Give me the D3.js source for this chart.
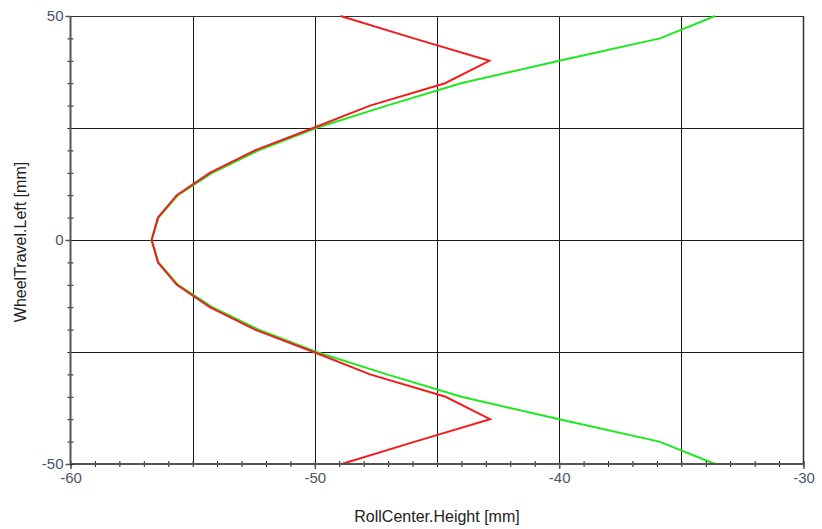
<!DOCTYPE html>
<html>
<head>
<meta charset="utf-8">
<script src="https://cdn.jsdelivr.net/npm/d3@7/dist/d3.min.js"></script>
<style>
  html, body { margin: 0; padding: 0; background: #fff; }
  svg { display: block; font-family: "Liberation Sans", Arial, sans-serif; }
</style>
</head>
<body>
<svg id="chart" width="822" height="529"></svg>
<script>
// Wheel travel (y) values, mm
const wheelTravel = [-50, -45, -40, -35, -30, -25, -20, -15, -10, -5, 0, 5, 10, 15, 20, 25, 30, 35, 40, 45, 50];
// Roll center height (x) values, mm
const redSeries = [-48.9, -45.9, -42.83, -44.65, -47.74, -50.05, -52.45, -54.3, -55.65, -56.42, -56.68,
                   -56.42, -55.65, -54.3, -52.45, -50.07, -47.74, -44.67, -42.86, -45.95, -48.95];
const greenSeries = [-33.62, -35.9, -40.0, -44.0, -47.05, -49.93, -52.3, -54.2, -55.6, -56.4, -56.68,
                     -56.4, -55.6, -54.2, -52.3, -49.95, -47.05, -44.02, -40.0, -35.87, -33.62];
const xTicks = [-60, -50, -40, -30];
const xGrid = [-55, -50, -45, -40, -35];
const yTicks = [-50, 0, 50];
const yGrid = [-25, 0, 25];
const xLabel = "RollCenter.Height [mm]";
const yLabel = "WheelTravel.Left [mm]";

const svg = d3.select("#chart");
const L = 70.5, R = 803.5, T = 16, B = 464;
const x = d3.scaleLinear().domain([-60, -30]).range([L, R]);
const y = d3.scaleLinear().domain([-50, 50]).range([B, T]);
const fmt = d => String(d);

// grid
const g = svg.append("g");
g.selectAll("line.gx").data(xGrid).enter().append("line")
  .attr("x1", d => Math.round(x(d)) + 0.5).attr("x2", d => Math.round(x(d)) + 0.5)
  .attr("y1", T).attr("y2", B).attr("stroke", "#1a1a1a").attr("stroke-width", 1);
g.selectAll("line.gy").data(yGrid).enter().append("line")
  .attr("y1", d => Math.round(y(d)) + 0.5).attr("y2", d => Math.round(y(d)) + 0.5)
  .attr("x1", L).attr("x2", R).attr("stroke", "#1a1a1a").attr("stroke-width", 1);
// frame top/right
g.append("line").attr("x1", L).attr("x2", R).attr("y1", T + 0.5).attr("y2", T + 0.5).attr("stroke", "#333").attr("stroke-width", 1);
g.append("line").attr("x1", R).attr("x2", R).attr("y1", T).attr("y2", B).attr("stroke", "#333").attr("stroke-width", 1.5);

// lines
const line = d3.line().x(d => x(d[0])).y(d => y(d[1]));
svg.append("path").datum(greenSeries.map((v, i) => [v, wheelTravel[i]]))
  .attr("d", line).attr("fill", "none").attr("stroke", "#1ee81e").attr("stroke-width", 2);
svg.append("path").datum(redSeries.map((v, i) => [v, wheelTravel[i]]))
  .attr("d", line).attr("fill", "none").attr("stroke", "#f21c1c").attr("stroke-width", 2);

// axes
const axisColor = "#555";
// x axis
const xAxis = d3.axisBottom(x).tickValues(d3.range(-60, -29, 1)).tickSize(3).tickFormat("");
const gx = svg.append("g").attr("transform", `translate(0,${B})`).call(xAxis);
gx.select(".domain").remove();
gx.selectAll(".tick line").attr("stroke", "#222").attr("y1", -3).attr("y2", 3);
svg.append("line").attr("x1", L).attr("x2", R).attr("y1", B).attr("y2", B).attr("stroke", axisColor).attr("stroke-width", 2);
const xMaj = svg.append("g").attr("transform", `translate(0,${B})`).call(
  d3.axisBottom(x).tickValues(xTicks).tickSize(5).tickPadding(3).tickFormat(fmt));
xMaj.select(".domain").remove();
xMaj.selectAll(".tick line").attr("stroke", axisColor).attr("stroke-width", 1.5);
xMaj.selectAll(".tick text").attr("fill", "#4d5566").attr("font-size", 15).style("font-family", "'Liberation Sans', Arial, sans-serif");

// y axis
const yAxis = d3.axisLeft(y).tickValues(d3.range(-50, 51, 5)).tickSize(3).tickFormat("");
const gy = svg.append("g").attr("transform", `translate(${L},0)`).call(yAxis);
gy.select(".domain").remove();
gy.selectAll(".tick line").attr("stroke", "#222").attr("x1", -3).attr("x2", 3);
svg.append("line").attr("x1", L).attr("x2", L).attr("y1", T).attr("y2", B).attr("stroke", axisColor).attr("stroke-width", 2);
const yMaj = svg.append("g").attr("transform", `translate(${L},0)`).call(
  d3.axisLeft(y).tickValues(yTicks).tickSize(5).tickPadding(2).tickFormat(fmt));
yMaj.select(".domain").remove();
yMaj.selectAll(".tick line").attr("stroke", axisColor).attr("stroke-width", 1.5);
yMaj.selectAll(".tick text").attr("fill", "#4d5566").attr("font-size", 15).style("font-family", "'Liberation Sans', Arial, sans-serif");

// titles
svg.append("text").attr("x", 437).attr("y", 522).attr("text-anchor", "middle")
  .attr("font-size", 16).attr("fill", "#222").text(xLabel);
svg.append("text").attr("transform", "translate(26,242) rotate(-90)").attr("text-anchor", "middle")
  .attr("font-size", 16).attr("fill", "#222").text(yLabel);
</script>
</body>
</html>
